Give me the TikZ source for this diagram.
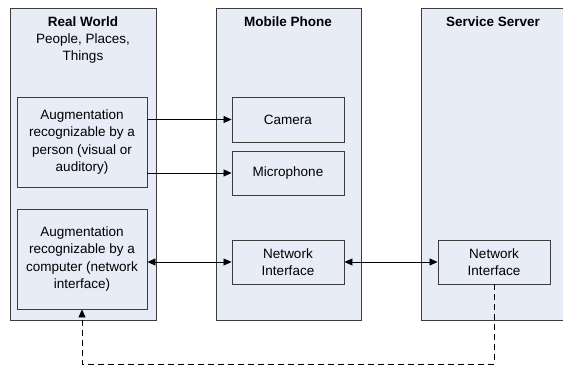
\documentclass[tikz,border=0pt]{standalone}
\usepackage{fontspec}
\setmainfont{Liberation Sans}
\usetikzlibrary{arrows.meta}
\definecolor{boxfill}{HTML}{E7ECF6}
\definecolor{edge}{HTML}{3C3C3C}
\tikzset{
  panel/.style={draw=edge, fill=boxfill, line width=0.9pt},
  innerbox/.style={draw=edge, fill=boxfill, line width=0.9pt, align=center,
    font=\fontsize{13.5}{17.5}\selectfont, inner sep=0pt},
  titletext/.style={font=\bfseries\fontsize{13.5}{16}\selectfont, align=center, inner sep=0pt},
  subtext/.style={font=\fontsize{13.5}{16.5}\selectfont, align=center, inner sep=0pt},
  conn/.style={line width=0.8pt, -{Triangle[length=8pt,width=7pt]}},
  biconn/.style={line width=0.8pt, {Triangle[length=8pt,width=7pt]}-{Triangle[length=8pt,width=7pt]}},
  dashconn/.style={line width=0.8pt, dash pattern=on 6pt off 4pt, -{Triangle[length=8pt,width=7pt]}},
}
\begin{document}
\begin{tikzpicture}[x=1pt,y=-1pt]
\useasboundingbox (0,0) rectangle (563,366);
% panels
\path[panel] (10,8) rectangle (156,320);
\path[panel] (216,8) rectangle (361,320);
\fill[boxfill] (421,8) rectangle (563,320);
\draw[edge, line width=0.9pt] (563,8) -- (421,8) -- (421,320) -- (563,320);
% titles
\node[titletext] (rwtitle) at (83,22) {Real World};
\node[subtext] (rwsub) at (83,48.5) {People, Places,\\Things};
\node[titletext] (mptitle) at (288,22) {Mobile Phone};
\node[titletext] (sstitle) at (493,22) {Service Server};
% inner boxes
\node[innerbox, minimum width=130pt, minimum height=90pt] (aug1) at (82,142)
  {Augmentation\\recognizable by a\\person (visual or\\auditory)};
\node[innerbox, minimum width=130pt, minimum height=100pt] (aug2) at (82,259)
  {Augmentation\\recognizable by a\\computer (network\\interface)};
\node[innerbox, minimum width=112pt, minimum height=45pt] (cam) at (288,119.5) {Camera};
\node[innerbox, minimum width=112pt, minimum height=44pt] (mic) at (288,173) {Microphone};
\node[innerbox, minimum width=112pt, minimum height=44pt] (ni) at (288,262) {Network\\Interface};
\node[innerbox, minimum width=112pt, minimum height=44pt] (sni) at (494,262) {Network\\Interface};
% connectors
\draw[conn] (cam.west -| aug1.east) -- (cam.west);
\draw[conn] (mic.west -| aug1.east) -- (mic.west);
\draw[biconn] (ni.west -| aug2.east) -- (ni.west);
\draw[biconn] (ni.east) -- (sni.west);
\coordinate (dashcorner) at (494,364);
\draw[dashconn] (sni.south) -- (dashcorner) -| (aug2.south);
\end{tikzpicture}
\end{document}
